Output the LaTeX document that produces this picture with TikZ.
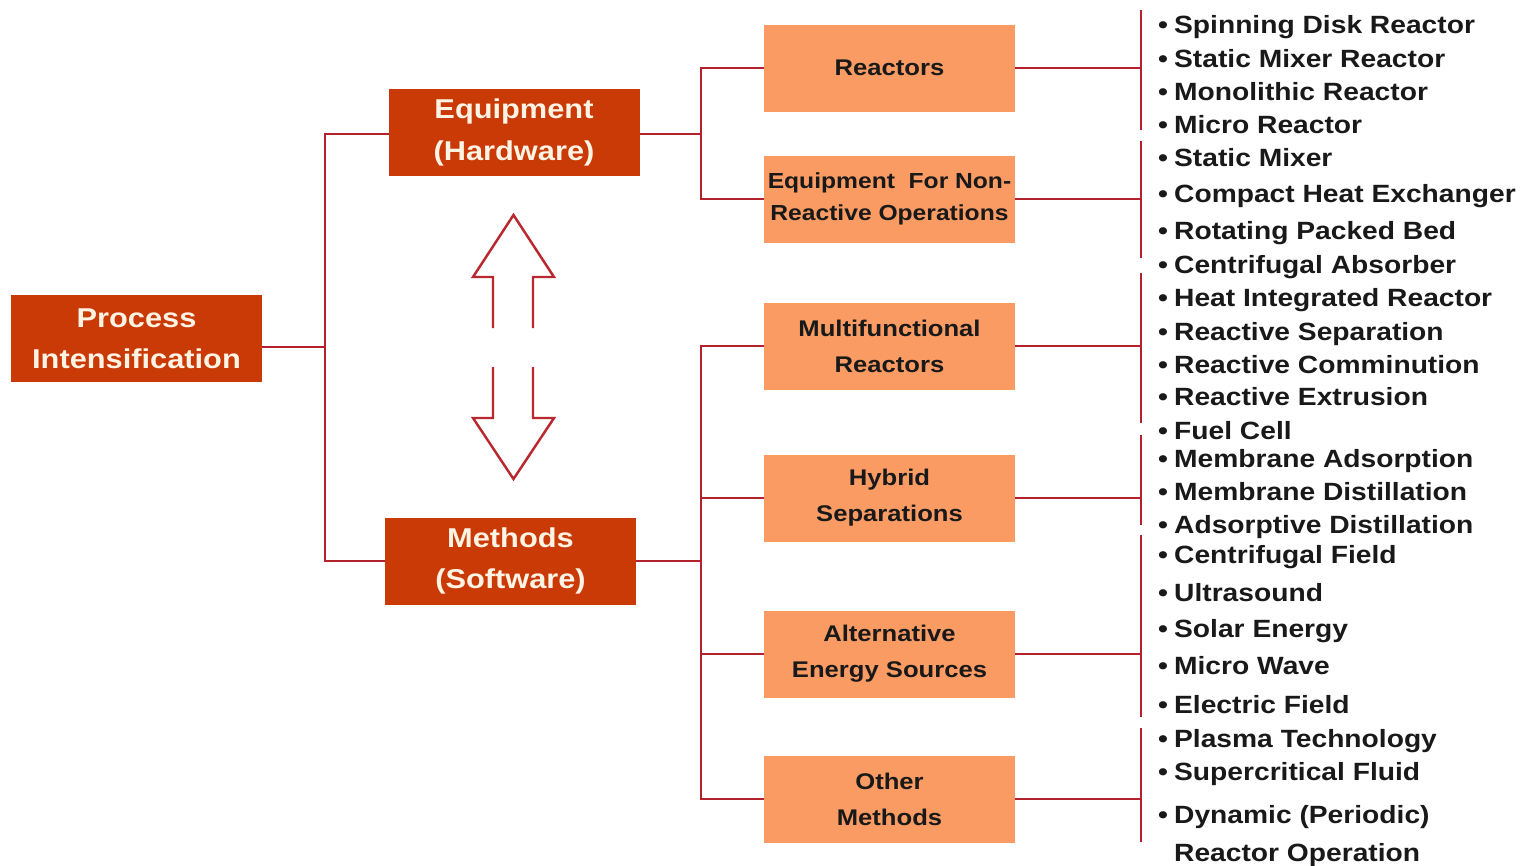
\documentclass[tikz,border=0pt]{standalone}
\usepackage{fontspec}
\setmainfont{Liberation Sans}[FakeStretch=1.13]
\usepackage{xcolor}
\usepackage{tikz}
\usetikzlibrary{arrows,calc}
\usetikzlibrary{positioning}
\definecolor{boxred}{HTML}{C93A06}
\definecolor{boxorange}{HTML}{F99B63}
\definecolor{wirered}{HTML}{B3222C}
\definecolor{arrowred}{HTML}{B8282E}
\definecolor{cream}{HTML}{FFF3E4}

\begin{document}
\begin{tikzpicture}[-,>=stealth',auto,node distance=0.5cm,semithick]
 \tikzstyle{mainbox}=[rectangle, fill=boxred, text=cream, minimum width=2.51cm, minimum height=0.87cm, inner sep=0pt, outer sep=0pt, align=center, font=\fontsize{7.75}{11.7}\selectfont\bfseries]
 \tikzstyle{subbox}=[rectangle, fill=boxorange, text=black!90, minimum width=2.51cm, minimum height=0.87cm, inner sep=0pt, outer sep=0pt, align=center, font=\fontsize{6.45}{10.2}\selectfont\bfseries]
 \tikzstyle{entry}=[anchor=base west, inner sep=0pt, text=black!90, font=\fontsize{7.1}{8.5}\selectfont\bfseries]
 \tikzstyle{wire}=[draw=wirered, line width=0.6pt]
 \useasboundingbox (0,0) rectangle (15.32,-8.65);

 % left part
 \node[mainbox] (pi) at (1.365,-3.385) {Process\\Intensification};
 \node[mainbox] (equip) at (5.14,-1.325) {Equipment\\(Hardware)};
 \node[mainbox] (meth) at (5.105,-5.61) {Methods\\(Software)};

 % middle column
 \node[subbox] (react) at (8.895,-0.68) {Reactors};
 \node[subbox, font=\fontsize{6.2}{9.1}\selectfont\bfseries] (nonreact) [below=0.44cm of react] {Equipment\ \ For Non-\\Reactive Operations};
 \node[subbox] (multi) [below=0.60cm of nonreact] {Multifunctional\\Reactors};
 \node[subbox] (hybrid) [below=0.65cm of multi] {Hybrid\\Separations};
 \node[subbox] (alt) [below=0.69cm of hybrid] {Alternative\\Energy Sources};
 \node[subbox] (other) [below=0.58cm of alt] {Other\\Methods};

 % right lists
 \foreach \y/\t [count=\i] in {33/Spinning Disk Reactor, 67/Static Mixer Reactor, 100/Monolithic Reactor,
   133/Micro Reactor, 166/Static Mixer, 202/Compact Heat Exchanger, 239/Rotating Packed Bed,
   273/Centrifugal Absorber, 306/Heat Integrated Reactor, 340/Reactive Separation,
   373/Reactive Comminution, 405/Reactive Extrusion, 439/Fuel Cell, 467/Membrane Adsorption,
   500/Membrane Distillation, 533/Adsorptive Distillation, 563/Centrifugal Field, 601/Ultrasound,
   637/Solar Energy, 674/Micro Wave, 713/Electric Field, 747/Plasma Technology,
   780/Supercritical Fluid, 823/Dynamic (Periodic)}
   \node[entry] (it\i) at (11.57,-\y/100) {•\kern.25em\t};
 \node[entry] (it25) at (11.57,-8.61) {\phantom{•}\kern.25em Reactor Operation};

 % connectors
 \coordinate (hub) at (3.25,-3.47);
 \coordinate (hubE) at (7.01,-1.34);
 \coordinate (hubM) at (7.01,-5.61);
 \draw[wire] (pi.east |- hub) -- (hub);
 \draw[wire] (equip.west |- hubE) -| (hub) |- (meth.west);
 \draw[wire] (equip.east |- hubE) -- (hubE);
 \draw[wire] (react.west) -| (hubE) |- (nonreact.west);
 \draw[wire] (meth) -- (hubM);
 \draw[wire] (multi.west) -| (hubM) |- (other.west);
 \draw[wire] (hybrid.west) -| (hubM);
 \draw[wire] (alt.west) -| (hubM);

 \foreach \n/\t/\b in {react/10/130, nonreact/141/258, multi/273/423,
   hybrid/435/525, alt/535/717, other/728/842} {
   \coordinate (\n-top) at (11.41,-\t/100);
   \coordinate (\n-bot) at (11.41,-\b/100);
   \draw[wire] (\n-top) -- (\n-bot);
   \draw[wire] (\n.east) -- (\n.east -| \n-top);
 }

 % double arrow
 \draw[draw=arrowred, line width=0.7pt, miter limit=10]
   (4.93,-3.28) -- (4.93,-2.77) -- (4.73,-2.77) -- (5.135,-2.15) -- (5.54,-2.77) -- (5.33,-2.77) -- (5.33,-3.28);
 \draw[draw=arrowred, line width=0.7pt, miter limit=10]
   (4.93,-3.67) -- (4.93,-4.18) -- (4.73,-4.18) -- (5.135,-4.79) -- (5.54,-4.18) -- (5.33,-4.18) -- (5.33,-3.67);
\end{tikzpicture}
\end{document}
